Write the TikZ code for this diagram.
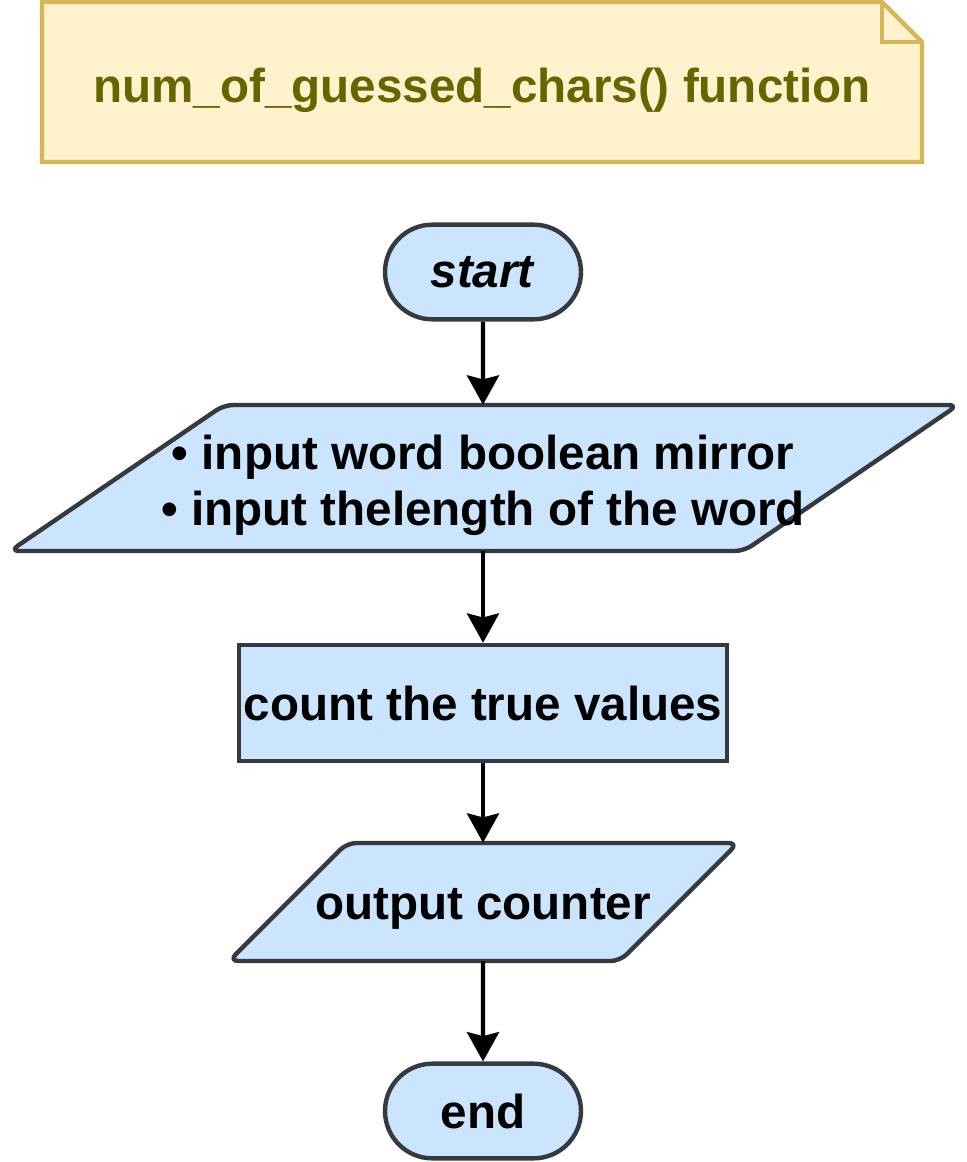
\documentclass[tikz,border=0pt]{standalone}
\usepackage{fontspec}
\setmainfont{Liberation Sans}
\usetikzlibrary{shapes.misc,arrows.meta}
\definecolor{notefill}{HTML}{FFF2CC}
\definecolor{notedraw}{HTML}{D6B656}
\definecolor{notetext}{HTML}{666600}
\definecolor{boxfill}{HTML}{CCE5FF}
\definecolor{boxdraw}{HTML}{36393D}

\begin{document}
\begin{tikzpicture}[x=0.75pt,y=-0.75pt,
		bigfont/.style={font=\bfseries\fontsize{35.7}{42}\selectfont},
		term/.style={rounded rectangle,draw=boxdraw,fill=boxfill,line width=3.3pt,minimum width=147pt,minimum height=71pt,inner sep=0pt,bigfont},
		proc/.style={rectangle,draw=boxdraw,fill=boxfill,line width=3.3pt,minimum width=366pt,minimum height=87pt,inner sep=0pt,bigfont},
		iotext/.style={inner sep=0pt,align=center,bigfont},
		ioshape/.style={draw=boxdraw,fill=boxfill,line width=3.3pt,rounded corners=7pt,line join=round},
		flow/.style={-{Stealth[length=22pt,width=24pt,inset=3pt]},line width=3.3pt}]
		\useasboundingbox (0,0) rectangle (966,1162);
		\def\note{(42,2) -- (882,2) -- (922,42) -- (922,162) -- (42,162) -- cycle}
		\def\inshape{(10,551) -- (224,405) -- (958,405) -- (744,551) -- cycle}
		\def\outshape{(229,961) -- (347,843) -- (738,843) -- (620,961) -- cycle}
		\draw[draw=notedraw,fill=notefill,line width=3.3pt] \note;
		\draw[draw=notedraw,line width=3.3pt] (882,2) -- (882,42) -- (922,42);
		\node[bigfont,text=notetext,inner sep=0pt] (title) at (482,90) {num\_of\_guessed\_chars() function};
		\draw[ioshape] \inshape;
		\draw[ioshape] \outshape;
		\node[term] (start) at (483,272) {\textit{start}};
		\node[iotext,minimum height=109.5pt,text height=78pt,text depth=7.5pt] (input) at (483,478) {• input word boolean mirror\\• input thelength of the word};
		\node[proc] (count) at (483,703) {count the true values};
		\node[iotext,minimum height=88.5pt,text height=33pt,text depth=7pt] (output) at (483,902) {output counter};
		\node[term] (end) at (483,1111) {end};
		\draw[flow] (start) -- (input);
		\draw[flow] (input) -- (count);
		\draw[flow] (count) -- (output);
		\draw[flow] (output) -- (end);
	\end{tikzpicture}
\end{document}
